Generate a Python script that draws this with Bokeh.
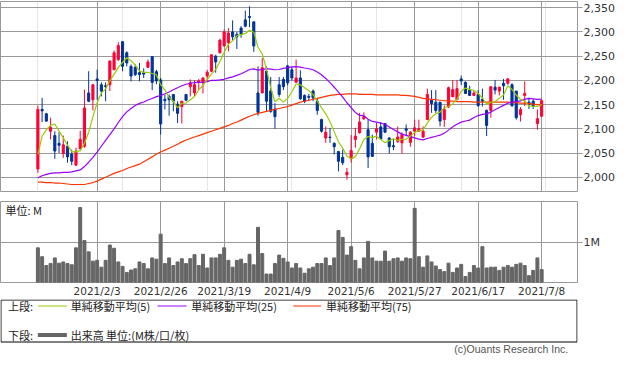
from bokeh.plotting import figure
from bokeh.layouts import column
from bokeh.models import (ColumnDataSource, Range1d, FixedTicker, NumeralTickFormatter,
                          Grid, Label)
from bokeh.embed import file_html
from bokeh.resources import INLINE
from bokeh.core.properties import value

# ---------------- data ----------------
opens = [2017, 2140, 2131, 2095, 2086, 2070, 2049, 2064, 2048, 2025,
         2059, 2064, 2174, 2160, 2203, 2191, 2189, 2191, 2222, 2243,
         2280, 2257, 2229, 2227, 2216, 2216, 2227, 2249, 2218, 2201,
         2161, 2167, 2171, 2151, 2146, 2171, 2187, 2174, 2196, 2195,
         2209, 2219, 2250, 2257, 2271, 2278, 2300, 2295, 2308, 2325,
         2332, 2321, 2174, 2174, 2219, 2178, 2141, 2191, 2202, 2230,
         2222, 2196, 2205, 2169, 2167, 2178, 2157, 2119, 2081, 2083,
         2070, 2053, 2041, 2005, 2038, 2078, 2092, 2121, 2098, 2070,
         2093, 2104, 2111, 2081, 2065, 2074, 2071, 2100, 2072, 2095,
         2095, 2083, 2119, 2159, 2155, 2155, 2119, 2145, 2166, 2160,
         2203, 2196, 2180, 2169, 2171, 2161, 2138, 2138, 2186, 2178,
         2194, 2194, 2191, 2178, 2129, 2169, 2155, 2157, 2111, 2126]
highs = [2148, 2164, 2133, 2123, 2095, 2093, 2086, 2074, 2057, 2061,
         2096, 2181, 2219, 2192, 2222, 2196, 2196, 2241, 2262, 2279,
         2281, 2260, 2233, 2233, 2236, 2225, 2243, 2250, 2222, 2205,
         2171, 2171, 2172, 2157, 2157, 2172, 2202, 2200, 2203, 2207,
         2222, 2253, 2253, 2286, 2305, 2308, 2324, 2300, 2312, 2344,
         2353, 2321, 2229, 2246, 2229, 2207, 2153, 2207, 2207, 2232,
         2228, 2243, 2221, 2171, 2172, 2181, 2162, 2121, 2105, 2102,
         2072, 2053, 2057, 2019, 2087, 2102, 2133, 2134, 2119, 2088,
         2112, 2114, 2112, 2083, 2079, 2105, 2093, 2109, 2095, 2119,
         2119, 2105, 2183, 2180, 2180, 2155, 2148, 2187, 2201, 2201,
         2210, 2198, 2189, 2178, 2180, 2183, 2140, 2187, 2201, 2187,
         2203, 2205, 2194, 2178, 2145, 2198, 2164, 2161, 2140, 2160]
lows = [2009, 2114, 2114, 2078, 2038, 2050, 2040, 2030, 2025, 2023,
        2057, 2061, 2155, 2138, 2160, 2167, 2157, 2178, 2222, 2240,
        2219, 2229, 2198, 2209, 2198, 2205, 2226, 2180, 2192, 2088,
        2140, 2127, 2136, 2112, 2111, 2157, 2167, 2167, 2181, 2173,
        2198, 2217, 2216, 2256, 2271, 2260, 2283, 2265, 2288, 2310,
        2310, 2259, 2127, 2174, 2136, 2133, 2100, 2166, 2180, 2190,
        2200, 2195, 2160, 2153, 2157, 2157, 2129, 2092, 2071, 2071,
        2047, 2012, 2025, 1995, 2030, 2061, 2090, 2118, 2019, 2043,
        2078, 2078, 2092, 2049, 2056, 2071, 2049, 2085, 2063, 2085,
        2095, 2081, 2118, 2133, 2133, 2105, 2104, 2143, 2166, 2160,
        2190, 2173, 2168, 2168, 2145, 2146, 2085, 2123, 2171, 2169,
        2160, 2191, 2145, 2119, 2115, 2147, 2141, 2141, 2098, 2125]
closes = [2140, 2137, 2116, 2103, 2054, 2066, 2067, 2042, 2033, 2054,
          2078, 2143, 2157, 2191, 2200, 2178, 2187, 2240, 2257, 2272,
          2229, 2236, 2209, 2212, 2212, 2213, 2238, 2196, 2199, 2110,
          2158, 2160, 2157, 2132, 2157, 2159, 2195, 2191, 2199, 2205,
          2217, 2253, 2238, 2283, 2300, 2298, 2290, 2290, 2295, 2312,
          2330, 2271, 2134, 2226, 2157, 2136, 2125, 2171, 2187, 2195,
          2205, 2205, 2162, 2157, 2165, 2164, 2138, 2095, 2093, 2082,
          2063, 2033, 2030, 2010, 2055, 2085, 2114, 2125, 2042, 2043,
          2100, 2079, 2093, 2063, 2063, 2083, 2088, 2097, 2093, 2102,
          2100, 2095, 2171, 2152, 2138, 2116, 2140, 2185, 2181, 2183,
          2199, 2173, 2169, 2174, 2148, 2157, 2107, 2187, 2180, 2186,
          2189, 2203, 2148, 2123, 2140, 2173, 2150, 2147, 2121, 2158]
volumes = [0.86, 0.64, 0.42, 0.47, 0.61, 0.48, 0.51, 0.47, 0.44, 0.86,
           1.86, 1.04, 0.76, 0.53, 0.55, 0.38, 0.55, 0.93, 0.85, 0.51,
           0.40, 0.25, 0.31, 0.34, 0.51, 0.47, 0.34, 0.61, 0.58, 1.20,
           0.47, 0.61, 0.42, 0.51, 0.59, 0.47, 0.59, 0.69, 0.42, 0.70,
           0.36, 0.61, 0.61, 0.70, 0.86, 0.55, 0.38, 0.55, 0.58, 0.47,
           0.70, 0.44, 1.37, 0.72, 0.21, 0.21, 0.47, 0.68, 0.60, 0.51,
           0.36, 0.47, 0.36, 0.23, 0.34, 0.38, 0.47, 0.47, 0.61, 0.42,
           0.61, 1.29, 1.12, 0.68, 0.89, 0.55, 0.34, 0.61, 1.02, 0.61,
           0.53, 0.53, 0.78, 0.53, 0.59, 0.61, 0.53, 0.61, 0.59, 1.84,
           0.64, 0.38, 0.66, 0.51, 0.41, 0.32, 0.27, 0.48, 0.25, 0.36,
           0.45, 0.15, 0.25, 0.42, 0.36, 0.89, 0.36, 0.38, 0.38, 0.30,
           0.38, 0.42, 0.38, 0.45, 0.48, 0.42, 0.17, 0.30, 0.61, 0.32]
# moving-average values before enough in-chart history exists
ma5_head = [2047, 2085, 2098, 2107]
ma25_head = [1999, 2003, 2006, 2008, 2009, 2009, 2010, 2010, 2011, 2013,
             2015, 2022, 2031, 2041, 2052, 2064, 2076, 2088, 2100, 2113,
             2125, 2135, 2142, 2148]
ma75 = [1990, 1990, 1989, 1989, 1988, 1988, 1987, 1986, 1985, 1985,
        1985, 1985, 1987, 1989, 1992, 1996, 2000, 2004, 2008, 2011,
        2014, 2018, 2021, 2024, 2027, 2032, 2037, 2042, 2048, 2052,
        2056, 2060, 2064, 2068, 2073, 2077, 2080, 2083, 2086, 2089,
        2092, 2095, 2098, 2101, 2104, 2107, 2111, 2114, 2118, 2122,
        2126, 2129, 2132, 2134, 2136, 2138, 2140, 2142, 2144, 2146,
        2149, 2152, 2155, 2157, 2159, 2161, 2163, 2165, 2167, 2169,
        2170, 2171, 2171, 2172, 2172, 2172, 2171, 2171, 2171, 2171,
        2170, 2170, 2170, 2170, 2170, 2170, 2169, 2169, 2168, 2167,
        2165, 2163, 2162, 2161, 2160, 2159, 2158, 2157, 2157, 2156,
        2156, 2156, 2156, 2155, 2155, 2155, 2155, 2155, 2155, 2155,
        2155, 2155, 2154, 2154, 2153, 2153, 2152, 2151, 2150, 2150]
date_pos = [14, 29, 44, 59, 74, 89, 104, 119]
date_labels = ["2021/2/3", "2021/2/26", "2021/3/19", "2021/4/9",
               "2021/5/6", "2021/5/27", "2021/6/17", "2021/7/8"]
price_ticks = [2000, 2050, 2100, 2150, 2200, 2250, 2300, 2350]
vol_ticks = [1]
vol_tick_labels = ["1M"]
legend_labels = ["単純移動平均(5)", "単純移動平均(25)", "単純移動平均(75)"]
vol_legend = "出来高 単位:(M株/口/枚)"

# ---------------- derived ----------------
n = len(closes)
xs = list(range(n))


def rolling(vals, w, head):
    out = list(head)
    for i in range(len(head), len(vals)):
        out.append(sum(vals[i - w + 1:i + 1]) / w)
    return out


ma5 = rolling(closes, 5, ma5_head)
ma25 = rolling(closes, 25, ma25_head)

UP = "#ff0033"
DOWN = "#003399"
cols = [UP if c >= o else DOWN for o, c in zip(opens, closes)]
src = ColumnDataSource(dict(
    x=xs, o=opens, h=highs, l=lows, c=closes,
    top=[max(o, c) for o, c in zip(opens, closes)],
    bot=[min(o, c) for o, c in zip(opens, closes)],
    col=cols, ma5=ma5, ma25=ma25, ma75=ma75, vol=volumes))

GRID = "#999999"
W = 617
RB = 38                      # right border (axis) width
XR = Range1d(-8.83, 127.47)
JPFONT = value("Noto Sans CJK JP")


def style_right_axis(ax):
    ax.axis_line_color = None
    ax.major_tick_in = 0
    ax.major_tick_out = 5
    ax.major_tick_line_color = GRID
    ax.minor_tick_line_color = None
    ax.minor_tick_out = 0
    ax.major_label_standoff = 1
    ax.major_label_text_font = "DejaVu Sans"
    ax.major_label_text_font_size = "11px"
    ax.major_label_text_color = "#333333"


# ---------------- price panel ----------------
p1 = figure(width=W, height=192, x_range=XR, y_range=Range1d(1970.5, 2363),
            output_backend="svg", toolbar_location=None,
            x_axis_location=None, y_axis_location="right",
            min_border_left=0, min_border_right=RB,
            min_border_top=1, min_border_bottom=1)
p1.outline_line_color = GRID
p1.yaxis.ticker = FixedTicker(ticks=price_ticks)
p1.yaxis.formatter = NumeralTickFormatter(format="0,0")
style_right_axis(p1.yaxis[0])
p1.ygrid.ticker = FixedTicker(ticks=price_ticks)
p1.ygrid.grid_line_color = GRID
p1.add_layout(Grid(dimension=0, ticker=FixedTicker(ticks=date_pos),
                   grid_line_color=GRID))

p1.segment(x0="x", y0="l", x1="x", y1="h", color="col", line_width=1, source=src)
p1.vbar(x="x", width=0.5, top="top", bottom="bot", fill_color="col",
        line_color="col", line_width=1, source=src)
p1.line("x", "ma75", color="#ff3300", line_width=1.2, source=src)
p1.line("x", "ma25", color="#9900ff", line_width=1.2, source=src)
p1.line("x", "ma5", color="#99cc00", line_width=1.2, source=src)

# ---------------- volume panel ----------------
p2 = figure(width=W, height=107, x_range=XR, y_range=Range1d(0, 2.01),
            output_backend="svg", toolbar_location=None,
            x_axis_location="below", y_axis_location="right",
            min_border_left=0, min_border_right=RB,
            min_border_top=9, min_border_bottom=15)
p2.outline_line_color = GRID
p2.xaxis.ticker = FixedTicker(ticks=date_pos)
p2.xaxis.major_label_overrides = {p: t for p, t in zip(date_pos, date_labels)}
p2.xaxis.axis_line_color = None
p2.xaxis.major_tick_line_color = None
p2.xaxis.minor_tick_line_color = None
p2.xaxis.major_tick_in = 0
p2.xaxis.major_tick_out = 0
p2.xaxis.minor_tick_in = 0
p2.xaxis.minor_tick_out = 0
p2.xaxis.major_label_standoff = 2
p2.xaxis.major_label_text_font = "DejaVu Sans"
p2.xaxis.major_label_text_font_size = "10.5px"
p2.xaxis.major_label_text_color = "#333333"
p2.xgrid.ticker = FixedTicker(ticks=date_pos)
p2.xgrid.grid_line_color = GRID
p2.yaxis.ticker = FixedTicker(ticks=vol_ticks)
p2.yaxis.major_label_overrides = {t: s for t, s in zip(vol_ticks, vol_tick_labels)}
style_right_axis(p2.yaxis[0])
p2.ygrid.ticker = FixedTicker(ticks=vol_ticks)
p2.ygrid.grid_line_color = GRID

p2.vbar(x="x", top="vol", bottom=0, width=0.7, color="#666666", source=src)

px_per_x = (W - RB) / (XR.end - XR.start)
p2.add_layout(Label(x=XR.start + 5 / px_per_x, y=2.01 * (1 - 8 / 79),
                    text="単位: M", text_font="Noto Sans CJK JP",
                    text_font_size="11px", text_baseline="middle",
                    text_color="#222222"))

# ---------------- legend panel ----------------
H3 = 355 - 192 - 107
p3 = figure(width=W, height=H3, x_range=Range1d(0, W), y_range=Range1d(H3, 0),
            output_backend="svg", toolbar_location=None,
            x_axis_location=None, y_axis_location=None, min_border=0)
p3.outline_line_color = None
p3.grid.visible = False
p3.quad(left=[0.5], right=[W - 0.5], top=[0.5], bottom=[42.5],
        fill_color=None, line_color="#000000", line_width=1)
row1, row2 = 6.5, 35.5
p3.segment(x0=[40, 168, 313], y0=[row1] * 3, x1=[71, 199, 343], y1=[row1] * 3,
           color=["#99cc00", "#9900ff", "#ff3300"], line_width=1.2)
p3.segment(x0=[40], y0=[row2], x1=[71], y1=[row2], color="#666666", line_width=4)
p3.text(x=[8, 75, 204, 348, 8, 75],
        y=[row1, row1, row1, row1, row2, row2],
        text=["上段:"] + legend_labels + ["下段:", vol_legend],
        text_font=JPFONT, text_font_size="11px", text_baseline="middle",
        text_color="#222222")
p3.text(x=[607], y=[49.5], text=["(c)Ouants Research Inc."],
        text_font=value("Liberation Sans"),
        text_font_size="10.5px", text_baseline="middle", text_align="right",
        text_color="#555555")

layout = column(p1, p2, p3, spacing=0)
open("out.html", "w").write(file_html(layout, INLINE))
